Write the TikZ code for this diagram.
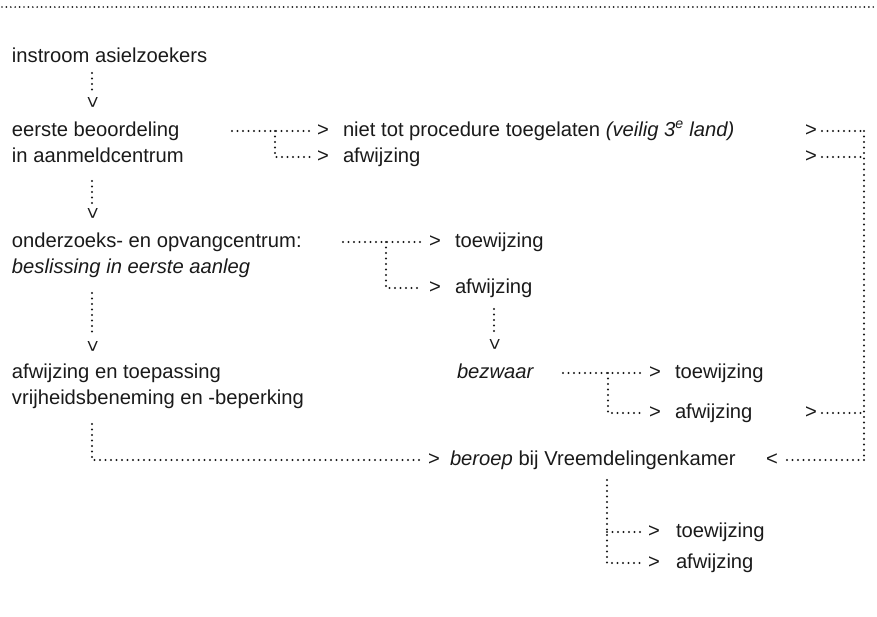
\documentclass[tikz,border=0pt]{standalone}
\usepackage{fontspec}
\setmainfont{Liberation Sans}
\definecolor{ink}{HTML}{1A1A1A}
\begin{document}
\begin{tikzpicture}[x=1pt,y=-1pt,
  txt/.style={anchor=base west,inner sep=0pt,outer sep=0pt,text=ink,font=\fontsize{20.2}{24}\selectfont},
  chev/.style={anchor=base west,inner sep=0pt,outer sep=0pt,text=ink,font=\fontsize{20.2}{24}\selectfont},
  vchev/.style={inner sep=0pt,outer sep=0pt,text=ink,font=\fontsize{20.2}{24}\selectfont,rotate=-90},
  dotline/.style={draw=ink,line width=2.1pt,line cap=round,dash pattern=on 0pt off 5.5pt},
  topline/.style={draw=ink,line width=1.9pt,line cap=round,dash pattern=on 0pt off 4.4pt},
]
\useasboundingbox (0,0) rectangle (877,616);

% top rule
\coordinate (tl) at (2,7);
\coordinate (tr) at (877,7);
\draw[topline] (tl) -- (tr);

% row A
\node[txt] (instroom) at (12,62) {instroom asielzoekers};
\coordinate (v1s) at (92,73);
\node[vchev] (v1) at (92,102) {>};
\draw[dotline] (v1s) -- (92,93);

% row B
\node[txt] (eerste) at (12,136) {eerste beoordeling};
\node[txt] (aanmeld) at (12,162) {in aanmeldcentrum};
\coordinate (b1s) at (232,131);
\node[chev] (b1a) at (317,136) {>};
\node[txt] (niet) at (343,136) {niet tot procedure toegelaten \textit{(veilig 3\textsuperscript{e} land)}};
\draw[dotline] (b1s) -- (313,131);
\coordinate (b1k) at (275,131);
\coordinate (b2k) at (275,157);
\node[chev] (b2a) at (317,162) {>};
\node[txt] (afw1) at (343,162) {afwijzing};
\draw[dotline] (b1k) -- (b2k) -- (310,157);
\node[chev] (r1) at (805,136) {>};
\node[chev] (r2) at (805,162) {>};
\coordinate (rv1) at (864,131);
\coordinate (rv2) at (864,157);
\draw[dotline] (822,131) -- (rv1);
\draw[dotline] (822,157) -- (rv2);

\coordinate (v2s) at (92,181);
\node[vchev] (v2) at (92,213) {>};
\draw[dotline] (v2s) -- (92,203);

% row C
\node[txt] (onderzoek) at (12,247) {onderzoeks- en opvangcentrum:};
\node[txt] (beslissing) at (12,273) {\textit{beslissing in eerste aanleg}};
\coordinate (c1s) at (343,242);
\node[chev] (c1a) at (429,247) {>};
\node[txt] (toew1) at (455,247) {toewijzing};
\draw[dotline] (c1s) -- (425,242);
\coordinate (c1k) at (386,242);
\coordinate (c2k) at (386,288);
\node[chev] (c2a) at (429,293) {>};
\node[txt] (afw2) at (455,293) {afwijzing};
\draw[dotline] (c1k) -- (c2k) -- (422,288);

\coordinate (v3s) at (494,309);
\node[vchev] (v3) at (494,344) {>};
\draw[dotline] (v3s) -- (494,333);

\coordinate (v4s) at (92,293);
\node[vchev] (v4) at (92,346) {>};
\draw[dotline] (v4s) -- (92,335);

% row D
\node[txt] (afwtoep) at (12,378) {afwijzing en toepassing};
\node[txt] (vrijheid) at (12,404) {vrijheidsbeneming en -beperking};
\node[txt] (bezwaar) at (457,378) {\textit{bezwaar}};
\coordinate (d1s) at (563,373);
\node[chev] (d1a) at (649,378) {>};
\node[txt] (toew2) at (675,378) {toewijzing};
\draw[dotline] (d1s) -- (645,373);
\coordinate (d1k) at (608,373);
\coordinate (d2k) at (608,413);
\node[chev] (d2a) at (649,418) {>};
\node[txt] (afw3) at (675,418) {afwijzing};
\draw[dotline] (d1k) -- (d2k) -- (642,413);
\node[chev] (r3) at (805,418) {>};
\coordinate (rv3) at (864,413);
\draw[dotline] (822,413) -- (rv3);

% right collector
\coordinate (rv4) at (864,460);
\draw[dotline] (rv1) -- (rv4);
\node[chev] (lt) at (766,465) {<};
\draw[dotline] (rv4) -- (784,460);

% row E
\coordinate (e0) at (92,424);
\coordinate (ek) at (92,460);
\node[chev] (e1a) at (428,465) {>};
\node[txt] (beroep) at (450,465) {\textit{beroep} bij Vreemdelingenkamer};
\draw[dotline] (e0) -- (ek) -- (424,460);

\coordinate (f0) at (607,480);
\coordinate (f1k) at (607,532);
\coordinate (f2k) at (607,563);
\node[chev] (f1a) at (648,537) {>};
\node[txt] (toew3) at (676,537) {toewijzing};
\node[chev] (f2a) at (648,568) {>};
\node[txt] (afw4) at (676,568) {afwijzing};
\draw[dotline] (f0) -- (f2k) -- (640,563);
\draw[dotline] (f1k) -- (640,532);
\end{tikzpicture}
\end{document}
